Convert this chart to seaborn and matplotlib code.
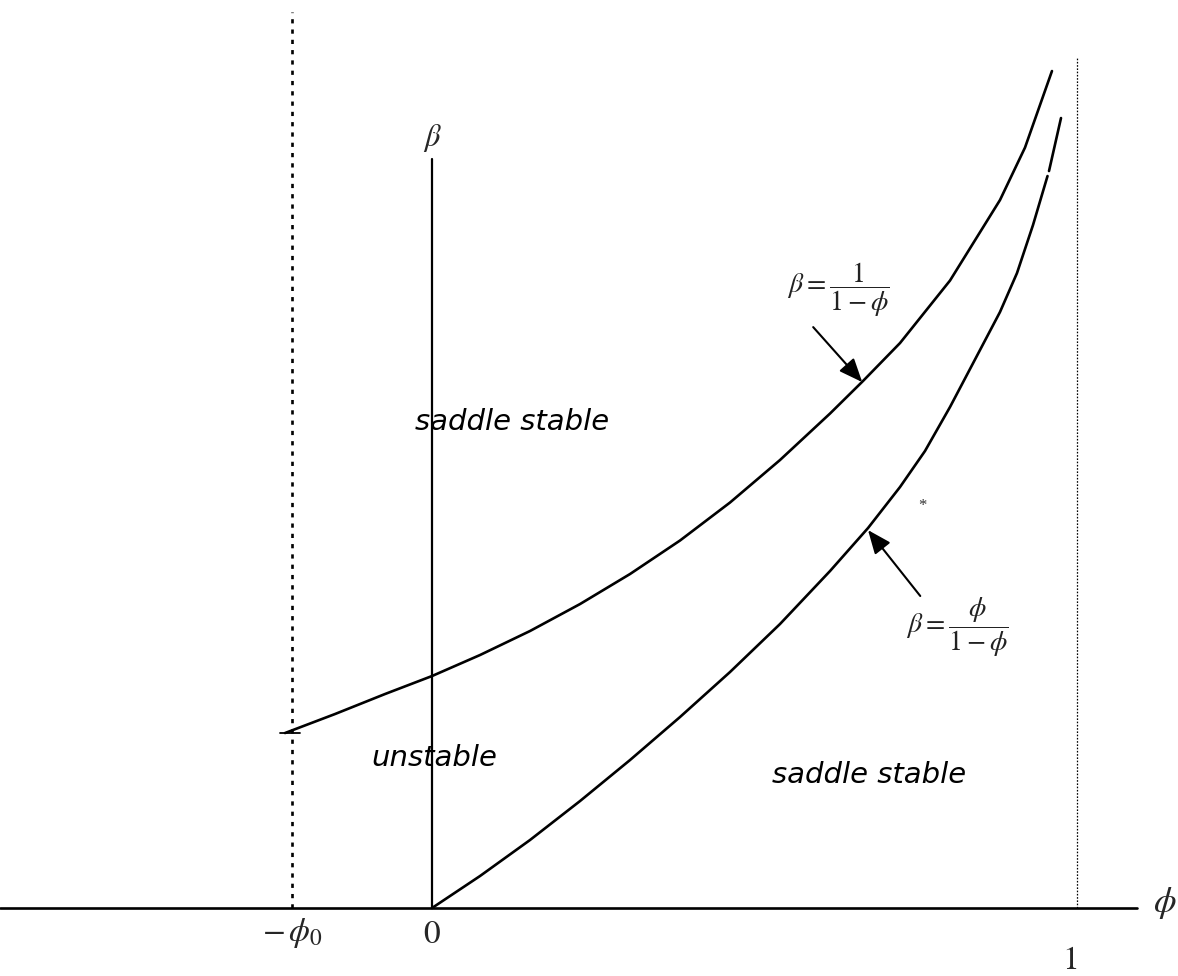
import numpy as np
import pandas as pd
import matplotlib
matplotlib.use("Agg")
import matplotlib.pyplot as plt
import seaborn as sns

# Phase diagram in the (phi, beta) plane
phi_upper = [-0.2279, -0.1504, -0.0729, 0.0000, 0.0744, 0.1519, 0.2295, 0.3070, 0.3845,
             0.4620, 0.5395, 0.6171, 0.6682, 0.7256, 0.8031, 0.8806, 0.9194, 0.9612]
beta_upper = [0.7543, 0.8362, 0.9224, 1.0000, 1.0905, 1.1940, 1.3103, 1.4397, 1.5841,
              1.7478, 1.9310, 2.1315, 2.2716, 2.4353, 2.7047, 3.0517, 3.2780, 3.6078]

phi_lower = [0.0000, 0.0744, 0.1519, 0.2295, 0.3070, 0.3845, 0.4620, 0.5395, 0.6171,
             0.6760, 0.7256, 0.7643, 0.8031, 0.8806, 0.9070, 0.9318, 0.9543]
beta_lower = [0.0000, 0.1379, 0.2931, 0.4612, 0.6379, 0.8233, 1.0172, 1.2241, 1.4526,
              1.6379, 1.8147, 1.9698, 2.1595, 2.5690, 2.7371, 2.9440, 3.1552]
phi_lower_tip = [0.9566, 0.9752]
beta_lower_tip = [3.1767, 3.4052]

phi0 = -0.217          # position of -phi_0
phi_one = 1.0          # asymptote phi = 1
beta_axis_top = 3.228

sns.set_theme(style="white")
plt.rcParams["mathtext.fontset"] = "stix"
plt.rcParams["font.family"] = ["DejaVu Sans"]

fig = plt.figure(figsize=(11.78, 9.76), dpi=100)
ax = fig.add_axes([0, 0, 1, 1])
ax.set_xlim(-0.6698, 1.1566)
ax.set_ylim(-0.293, 3.914)
ax.axis("off")

line_kw = dict(ax=ax, color="black", sort=False, estimator=None, legend=False)

# coordinate axes
sns.lineplot(x=[-0.6698, 1.093], y=[0, 0], lw=1.9, **line_kw)
sns.lineplot(x=[0, 0], y=[0, beta_axis_top], lw=1.6, **line_kw)

# -phi_0 dashed line and phi = 1 dotted line
ax.plot([phi0, phi0], [0, 3.862], color="black", lw=1.9, linestyle=(0, (1.6, 2.3)))
ax.plot([phi_one, phi_one], [0, 3.668], color="black", lw=0.9, linestyle=(0, (1.3, 1.3)))

# beta = 1/(1-phi)
sns.lineplot(x=phi_upper, y=beta_upper, lw=1.9, **line_kw)
sns.lineplot(x=[phi_upper[0] - 0.008, phi_upper[0] + 0.024], y=[beta_upper[0]] * 2,
             lw=1.3, **line_kw)

# beta = phi/(1-phi)
sns.lineplot(x=phi_lower, y=beta_lower, lw=1.9, **line_kw)
sns.lineplot(x=phi_lower_tip, y=beta_lower_tip, lw=1.9, **line_kw)

# curve labels with arrows
arrow = dict(arrowstyle="-|>,head_length=1.2,head_width=0.5", color="black", lw=1.5,
             shrinkA=0, shrinkB=0)
ax.annotate("", xy=(0.667, 2.267), xytext=(0.591, 2.504), arrowprops=arrow)
ax.annotate("", xy=(0.676, 1.629), xytext=(0.757, 1.345), arrowprops=arrow)

ax.text(0.6295, 2.664, r"$\beta = \dfrac{1}{1-\phi}$", fontsize=20, ha="center", va="center",
        color="#222222")
ax.text(0.814, 1.211, r"$\beta = \dfrac{\phi}{1-\phi}$", fontsize=20, ha="center", va="center",
        color="#222222")
ax.text(0.760, 1.733, "*", fontsize=12, ha="center", va="center", color="#333333",
        family="Liberation Serif")

# region names
region_kw = dict(fontsize=21, style="italic", ha="center", va="center", color="black")
ax.text(0.124, 2.095, "saddle stable", **region_kw)
ax.text(0.003, 0.647, "unstable", **region_kw)
ax.text(0.677, 0.573, "saddle stable", **region_kw)

# axis names and ticks
ax.text(0.0, 3.319, r"$\beta$", fontsize=22, ha="center", va="center")
ax.text(1.136, 0.02, r"$\phi$", fontsize=26, ha="center", va="center")
ax.text(0.0, -0.108, r"$0$", fontsize=24, ha="center", va="center")
ax.text(phi0, -0.108, r"$-\,\phi_0$", fontsize=24, ha="center", va="center")
ax.text(0.989, -0.224, r"$1$", fontsize=24, ha="center", va="center")

fig.savefig("out.png", dpi=100, facecolor="white")
